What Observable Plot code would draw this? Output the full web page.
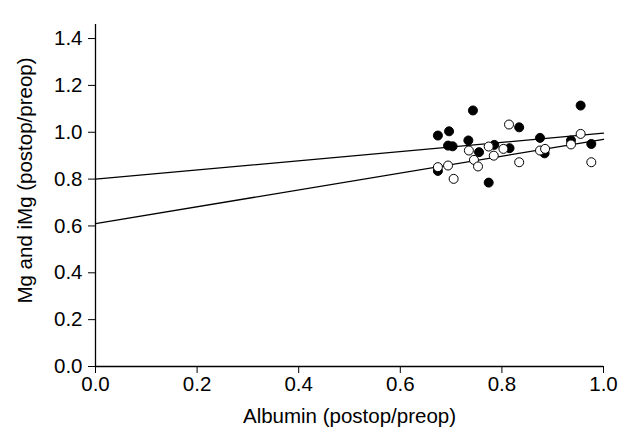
<!DOCTYPE html>
<html>
<head>
<meta charset="utf-8">
<script src="https://cdn.jsdelivr.net/npm/d3@7"></script>
<script src="https://cdn.jsdelivr.net/npm/@observablehq/plot@0.6"></script>
<style>
  html, body { margin: 0; padding: 0; background: #fff; }
</style>
</head>
<body>
<div id="chart"></div>
<script>
// Filled circles: Mg
const mgAlbumin = [0.743, 0.955, 0.674, 0.696, 0.834, 0.694, 0.703, 0.734, 0.755, 0.785, 0.815, 0.875, 0.884, 0.936, 0.976, 0.774, 0.674];
const mgRatio   = [1.093, 1.114, 0.986, 1.004, 1.021, 0.943, 0.940, 0.965, 0.915, 0.946, 0.932, 0.976, 0.910, 0.965, 0.950, 0.785, 0.835];
// Open circles: iMg
const imgAlbumin = [0.814, 0.955, 0.735, 0.774, 0.803, 0.745, 0.784, 0.753, 0.694, 0.674, 0.705, 0.834, 0.875, 0.885, 0.936, 0.976];
const imgRatio   = [1.033, 0.993, 0.922, 0.939, 0.929, 0.882, 0.900, 0.854, 0.858, 0.851, 0.801, 0.872, 0.922, 0.929, 0.948, 0.872];
// Regression lines (fitted values at albumin 0 and 1)
const fitAlbumin = [0, 1];
const fitMg  = [0.80, 0.996];
const fitIMg = [0.61, 0.97];

const xTicks = [0, 0.2, 0.4, 0.6, 0.8, 1.0];
const yTicks = [0, 0.2, 0.4, 0.6, 0.8, 1.0, 1.2, 1.4];
const xLabel = "Albumin (postop/preop)";
const yLabel = "Mg and iMg (postop/preop)";

const mg = mgAlbumin.map((x, i) => ({x, y: mgRatio[i]}));
const img = imgAlbumin.map((x, i) => ({x, y: imgRatio[i]}));
const fitMgData = fitAlbumin.map((x, i) => ({x, y: fitMg[i]}));
const fitIMgData = fitAlbumin.map((x, i) => ({x, y: fitIMg[i]}));

const font = "'Liberation Sans', Arial, sans-serif";

const chart = Plot.plot({
  width: 628,
  height: 434,
  marginLeft: 95,
  marginRight: 25,
  marginTop: 24,
  marginBottom: 68,
  style: {fontFamily: font, fontSize: "20px", color: "#000", background: "#fff"},
  x: {domain: [0, 1]},
  y: {domain: [0, 1.46]},
  marks: [
    Plot.axisX({ticks: xTicks, tickFormat: d3.format(".1f"), tickSize: 7, tickPadding: 3, stroke: "#000", strokeOpacity: 1,
      label: null, fontSize: 20.5}),
    Plot.axisY({ticks: yTicks, tickFormat: d3.format(".1f"), tickSize: 7, tickPadding: 6, stroke: "#000", strokeOpacity: 1,
      label: null, fontSize: 20.5}),
    Plot.text([xLabel], {text: d => d, frameAnchor: "bottom", lineAnchor: "middle", dy: 50, fontSize: 20.5, fill: "#000"}),
    Plot.text([yLabel], {text: d => d, frameAnchor: "left", rotate: -90, textAnchor: "middle", lineAnchor: "middle", dx: -70, dy: -15, fontSize: 20.5, fill: "#000"}),
    Plot.ruleY([0], {stroke: "#000", strokeWidth: 1.3}),
    Plot.ruleX([0], {stroke: "#000", strokeWidth: 1.3}),
    Plot.line(fitMgData, {x: "x", y: "y", stroke: "#000", strokeWidth: 1.3}),
    Plot.line(fitIMgData, {x: "x", y: "y", stroke: "#000", strokeWidth: 1.3}),
    Plot.dot(mg, {x: "x", y: "y", r: 4.5, fill: "#000", stroke: "#000", strokeWidth: 1}),
    Plot.dot(img, {x: "x", y: "y", r: 4.5, fill: "#fff", stroke: "#000", strokeWidth: 1})
  ]
});
document.getElementById("chart").appendChild(chart);
</script>
</body>
</html>
